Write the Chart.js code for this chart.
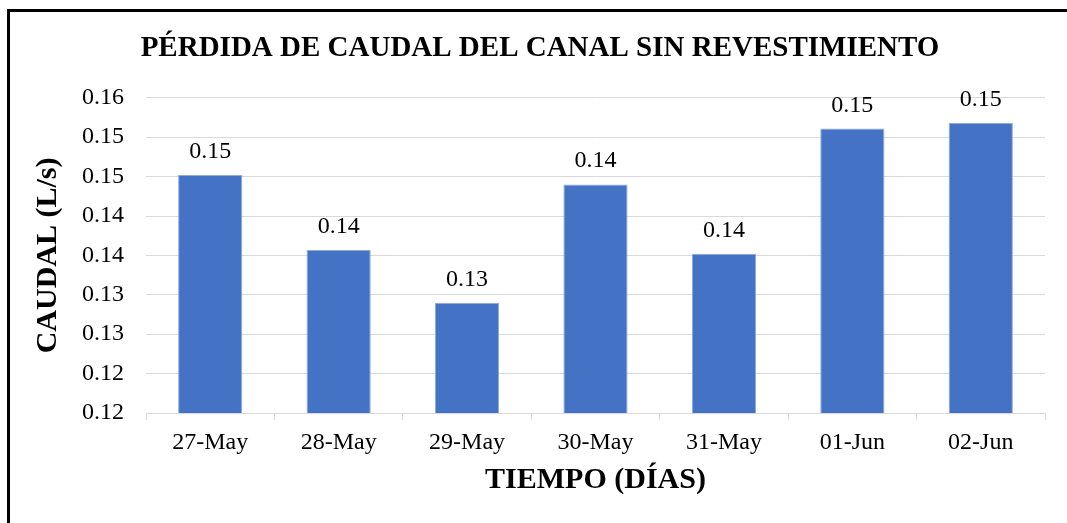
<!DOCTYPE html>
<html>
<head>
<meta charset="utf-8">
<script src="https://cdn.jsdelivr.net/npm/chart.js@4"></script>
<style>
  html, body { margin: 0; padding: 0; background: #fff; overflow: hidden; }
  #wrap { position: relative; width: 1067px; height: 523px; }
  #frame {
    position: absolute; left: 7px; top: 9px; width: 2000px; height: 2000px;
    border-top: 3px solid #000; border-left: 3px solid #000; pointer-events: none;
  }
</style>
</head>
<body>
<div id="wrap">
  <canvas id="caudal-chart" width="1067" height="523"></canvas>
  <div id="frame"></div>
</div>
<script>
// Daily flow loss, unlined canal
const dias = ["27-May", "28-May", "29-May", "30-May", "31-May", "01-Jun", "02-Jun"];
const perdida = [0.1502, 0.1407, 0.1340, 0.1490, 0.1402, 0.1561, 0.1568];
const yMin = 0.12;
const yMax = 0.16;
const yStep = 0.005;

const serif = "'Liberation Serif', 'Times New Roman', serif";

// two decimals, cut off rather than rounded
function dosDecimales(v) {
    return (Math.floor(v * 100 + 1e-6) / 100).toFixed(2);
}

// value labels above each bar
const etiquetas = {
    id: "etiquetas",
    afterDatasetsDraw(chart) {
        const ctx = chart.ctx;
        const meta = chart.getDatasetMeta(0);
        ctx.save();
        ctx.font = "24px " + serif;
        ctx.fillStyle = "#000";
        ctx.textAlign = "center";
        ctx.textBaseline = "alphabetic";
        meta.data.forEach((bar, i) => {
            ctx.fillText(dosDecimales(perdida[i]), bar.x, bar.y - 17);
        });
        ctx.restore();
    }
};

const ctx = document.getElementById("caudal-chart").getContext("2d");
new Chart(ctx, {
    type: "bar",
    data: {
        labels: dias,
        datasets: [{
            data: perdida,
            backgroundColor: "#4472C4",
            borderColor: "#8FAADC",
            borderWidth: { left: 1, right: 1, top: 1, bottom: 0 },
            categoryPercentage: 1.0,
            barPercentage: 0.5,
        }],
    },
    options: {
        responsive: false,
        animation: false,
        devicePixelRatio: 1,
        layout: { padding: { left: 35, right: 22, top: 0, bottom: 0 } },
        plugins: {
            legend: { display: false },
            tooltip: { enabled: false },
            title: {
                display: true,
                text: "PÉRDIDA DE CAUDAL DEL CANAL SIN REVESTIMIENTO",
                color: "#000",
                font: { family: serif, size: 29, weight: "bold", lineHeight: 1.2 },
                padding: { top: 31, bottom: 32 },
            },
        },
        scales: {
            x: {
                offset: true,
                border: { display: true, color: "#D9D9D9", width: 1 },
                grid: {
                    offset: true,
                    drawOnChartArea: false,
                    drawTicks: true,
                    tickLength: 7,
                    color: "#D9D9D9",
                },
                ticks: {
                    color: "#000",
                    padding: 8,
                    font: { family: serif, size: 24 },
                    maxRotation: 0,
                },
                title: {
                    display: true,
                    text: "TIEMPO (DÍAS)",
                    color: "#000",
                    font: { family: serif, size: 30, weight: "bold", lineHeight: 1.2 },
                    padding: { top: 4, bottom: 25 },
                },
                afterFit(scale) { scale.height = 110; },
            },
            y: {
                min: yMin,
                max: yMax,
                border: { display: false },
                grid: { color: "#D9D9D9", lineWidth: 1, drawTicks: false },
                ticks: {
                    stepSize: yStep,
                    color: "#000",
                    padding: 22,
                    font: { family: serif, size: 24 },
                    callback: (v) => dosDecimales(v),
                },
                title: {
                    display: true,
                    text: "CAUDAL (L/s)",
                    color: "#000",
                    font: { family: serif, size: 30, weight: "bold", lineHeight: 0.9 },
                    padding: { top: 0, bottom: 0 },
                },
                afterFit(scale) { scale.width = 111; },
            },
        },
    },
    plugins: [etiquetas],
});
</script>
</body>
</html>
